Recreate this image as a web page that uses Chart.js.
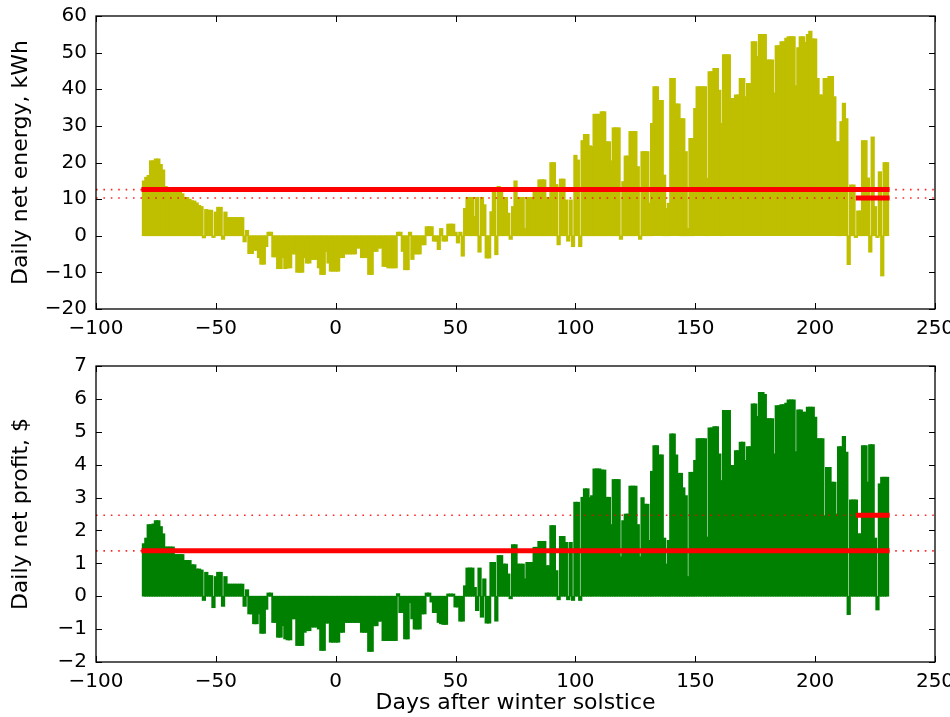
<!DOCTYPE html>
<html>
<head>
<meta charset="utf-8">
<script src="https://cdn.jsdelivr.net/npm/chart.js@4/dist/chart.umd.min.js"></script>
<style>
  html, body { margin: 0; padding: 0; background: #fff; }
  #wrap { position: relative; width: 950px; height: 717px; }
  #energyChart { position: absolute; left: 0; top: 0; }
  #profitChart { position: absolute; left: 0; top: 340px; }
</style>
</head>
<body>
<div id="wrap">
  <canvas id="energyChart" width="950" height="340"></canvas>
  <canvas id="profitChart" width="950" height="377"></canvas>
</div>
<script>
// days after winter solstice: -80 .. 230, one value per day
const firstDay = -80;

const dailyEnergy = [
  15, 16, 16.5, 20.5, 20.5, 21, 21, 19.5, 18, 13.5,            // -80..-71
  12, 12, 12.5, 12.5, 12, 12, 11.5, 10.5, 10.5, 10,            // -70..-61
  9.6, 9.5, 9, 8.3, 8, -0.6, 7.2, 7, 7, -0.5,                  // -60..-51
  6.5, 7.8, 7.8, -1, 6.5, 5, 5, 5, 5, 5,                       // -50..-41
  5, 5, -1.7, 1.5, -4.9, -4.9, -4, -4, -6, -7.8,               // -40..-31
  -7.8, -3, 1, 1, -5.8, -5.8, -9, -9, -6, -9,                  // -30..-21
  -8.8, -8.8, -5, -5, -10, -10, -10, -6, -7.5, -7.5,           // -20..-11
  -6.5, -6.5, -6.5, -8.8, -10.6, -10.6, -4.3, -7.5, -9.7, -9.7, // -10..-1
  -9.7, -9.7, -6, -6, -5, -5, -5, -5, -5, -3.4,                // 0..9
  -3.4, -6, -6, -6, -10.6, -10.6, -4.3, -4.3, -3.4, -3.4,      // 10..19
  -8.4, -8.4, -8.8, -8.8, -8.8, -8.8, 1, 1, -4.3, -9.3,        // 20..29
  -9.3, 1, -6.5, -5, -5, -5, -2.5, -2.5, 2.5, 2.5,             // 30..39
  2.5, -1.5, -1.5, -3.8, 2, -1.5, -1.5, 3.2, 3.2, 3.2,         // 40..49
  1, -2, 1, -5.6, 7.5, 10.5, 10.5, 10.5, 5.3, 10.5,            // 50..59
  -4.5, 10.5, 8.5, -6.1, -6.1, 6.6, 12, -5.2, 13.5, 13,        // 60..69
  10.5, 10.5, 6.2, -1, 8, 15, 10.5, 10.5, 10.5, 2,             // 70..79
  10.5, 10.5, 10.5, 12, 12, 15.3, 15.3, 15.3, 10.5, 10.5,      // 80..89
  20, 20, 14, -2.5, 15.5, 15.5, 9.8, -1.5, 9.8, -3,            // 90..99
  22, 20.7, -3, 26, 27.7, 27.7, 24.6, 24.4, 33.2, 33.2,        // 100..109
  33.2, 33.9, 33.9, 25.7, 25.7, 20.5, 29.5, 29.5, 29.5, -1,    // 110..119
  14.8, 21.8, 21.8, 28.5, 28.5, 28.5, 18.9, -1, 23, 23,        // 120..129
  23, 8.9, 30.7, 40.7, 40.7, 37, 37, 16.6, 7.5, 8.9,           // 130..139
  43, 43, 36, 36, 32, 32, 23, 2, 26.6, 26.6,                   // 140..149
  34.8, 40.7, 40.7, 40.7, 40.7, 15.7, 44.8, 44.8, 45.7, 45.7,  // 150..159
  39.8, 30.7, 49.5, 49.5, 49.5, 37.5, 37.5, 38.5, 38.5, 43,    // 160..169
  43, 38, 41.6, 41.6, 53, 53, 49, 55, 55, 55,                  // 170..179
  48, 48, 48, 39, 51.9, 51.9, 53, 53, 54, 54.4,                // 180..189
  54.4, 54.4, 41, 51.4, 54.4, 54.4, 52.8, 55, 55.9, 53.8,      // 190..199
  53.8, 43, 38.5, 38.5, 43, 43, 43.5, 43.5, 38, 25.7,          // 200..209
  25.7, 31.2, 36.2, 32, -7.9, 13.9, 13.9, -0.5, 6.8, 6.8,      // 210..219
  26, 26, 15.8, -4.5, 27, 8, -0.5, 17.5, -11, 20, 20           // 220..230
];

const dailyProfit = [
  1.6, 1.77, 2.18, 2.18, 2.2, 2.3, 2.3, 2.12, 1.9, 1.5,                 // -80..-71
  1.5, 1.5, 1.5, 1.27, 1.27, 1.27, 1.27, 1.09, 1.09, 1.09,              // -70..-61
  0.96, 0.96, 0.83, 0.83, 0.8, -0.13, 0.73, 0.63, 0.63, -0.35,          // -60..-51
  0.6, 0.73, 0.73, -0.31, 0.6, 0.37, 0.37, 0.37, 0.37, 0.37,            // -50..-41
  0.37, 0.37, -0.31, 0.2, -0.54, -0.54, -0.84, -0.84, -0.54, -1.13,     // -40..-31
  -1.13, -0.4, 0.1, 0.1, -0.8, -0.8, -1.25, -1.25, -0.9, -1.3,          // -30..-21
  -1.33, -1.33, -0.69, -0.69, -1.5, -1.5, -1.5, -1.1, -1.05, -1.05,     // -20..-11
  -0.94, -0.94, -0.94, -1.0, -1.65, -1.65, -0.82, -0.82, -1.4, -1.4,    // -10..-1
  -1.4, -1.4, -1.1, -1.1, -0.8, -0.8, -0.8, -0.8, -0.8, -0.8,           // 0..9
  -0.8, -1.1, -1.1, -1.1, -1.68, -1.68, -0.9, -0.9, -0.76, -0.76,       // 10..19
  -1.35, -1.35, -1.35, -1.35, -1.35, -1.35, 0.08, -0.5, -0.5, -1.3,     // 20..29
  -1.3, -0.2, -0.69, -1.0, -1.0, -1.0, -0.54, -0.54, 0.1, 0.1,          // 30..39
  -0.18, -0.5, -0.5, -0.8, -0.84, -0.86, -0.86, 0.07, 0.07, 0.07,       // 40..49
  -0.33, -0.33, -0.76, -0.76, 0.32, 0.86, 0.86, 0.86, 0.27, -0.44,      // 50..59
  0.86, -0.64, 0.53, -0.82, -0.82, 1.03, 1.03, -0.76, 1.24, 1.24,       // 60..69
  0.98, 0.98, 0.68, -0.08, 1.57, 1.57, 0.98, 0.98, 0.98, 0.53,          // 70..79
  1.03, 1.03, 1.03, 1.49, 1.49, 1.67, 1.67, 1.67, 0.93, 0.93,           // 80..89
  2.15, 2.15, 0.78, -0.11, 1.82, 1.82, 1.64, -0.11, 1.64, -0.13,        // 90..99
  2.86, 2.86, -0.13, 3.01, 3.27, 3.27, 3.0, 3.06, 3.87, 3.87,           // 100..109
  3.87, 3.84, 3.84, 3.01, 3.01, 2.18, 3.55, 3.55, 3.55, 1.2,            // 110..119
  2.3, 2.5, 2.5, 3.35, 3.35, 3.35, 2.18, 1.2, 3.0, 2.8,                 // 120..129
  2.8, 1.7, 3.8, 4.58, 4.58, 4.3, 4.3, 1.77, 0.98, 1.7,                 // 130..139
  4.94, 4.94, 4.3, 3.74, 3.74, 3.3, 3.06, 0.6, 3.77, 3.77,              // 140..149
  4.13, 4.79, 4.79, 4.79, 4.79, 1.8, 5.12, 5.12, 5.16, 5.16,            // 150..159
  4.33, 3.52, 5.65, 5.65, 5.65, 3.98, 3.98, 4.43, 4.43, 4.69,           // 160..169
  4.69, 4.13, 4.55, 4.55, 5.85, 5.85, 5.47, 6.2, 6.2, 6.14,             // 170..179
  5.4, 5.4, 5.4, 4.33, 5.8, 5.8, 5.83, 5.83, 5.87, 5.97,                // 180..189
  5.97, 5.97, 4.4, 5.67, 5.67, 5.6, 5.6, 5.75, 5.75, 5.75,              // 190..199
  5.45, 4.79, 4.79, 4.79, 2.45, 3.92, 3.92, 3.47, 3.47, 2.5,            // 200..209
  4.55, 4.55, 4.86, 4.38, -0.56, 2.93, 2.93, 2.93, 1.9, 1.9,            // 210..219
  4.58, 4.58, 3.47, 4.61, 4.61, 1.77, -0.42, 3.42, 3.62, 3.62, 3.62     // 220..230
];

// reference levels: [whole-period average, late-period average]
const energyLevels = [12.6, 10.3];
const profitLevels = [1.38, 2.46];
// day spans of the solid red lines, in the same order
const levelSpans = [[-80, 230], [218, 230]];

const xTicks = [-100, -50, 0, 50, 100, 150, 200, 250];
const energyTicks = [-20, -10, 0, 10, 20, 30, 40, 50, 60];
const profitTicks = [-2, -1, 0, 1, 2, 3, 4, 5, 6, 7];

const FONT = 'DejaVu Sans';
const TICK_SIZE = 20;
const LABEL_SIZE = 22;

function fmt(v) {
  return v < 0 ? '\u2212' + Math.abs(v) : String(v);
}

const framePlugin = {
  id: 'frame',
  afterDatasetsDraw(chart) {
    const { ctx, chartArea: a, scales: { x, y } } = chart;
    ctx.save();
    ctx.strokeStyle = '#000';
    ctx.lineWidth = 1;
    ctx.beginPath();
    x.ticks.forEach(t => {
      const px = Math.round(x.getPixelForValue(t.value)) + 0.5;
      ctx.moveTo(px, a.bottom); ctx.lineTo(px, a.bottom - 6);
      ctx.moveTo(px, a.top); ctx.lineTo(px, a.top + 6);
    });
    y.ticks.forEach(t => {
      const py = Math.round(y.getPixelForValue(t.value)) + 0.5;
      ctx.moveTo(a.left, py); ctx.lineTo(a.left + 6, py);
      ctx.moveTo(a.right, py); ctx.lineTo(a.right - 6, py);
    });
    ctx.stroke();
    ctx.lineWidth = 1.3;
    ctx.strokeRect(a.left, a.top, a.right - a.left, a.bottom - a.top);
    ctx.restore();
  }
};

function makeChart(el, cfg) {
  const bars = cfg.values.map((v, i) => ({ x: firstDay + i, y: v }));
  const datasets = [{
    type: 'bar',
    data: bars,
    backgroundColor: cfg.color,
    borderWidth: 0,
    barThickness: 3.6,
    order: 3
  }];

  cfg.levels.forEach((lvl, i) => {
    datasets.push({
      type: 'line',
      data: [{ x: -100, y: lvl }, { x: 250, y: lvl }],
      borderColor: 'rgba(255,0,0,0.85)',
      borderWidth: 1.6,
      borderDash: [1.6, 5.8],
      pointRadius: 0,
      order: 2
    });
    datasets.push({
      type: 'line',
      data: [{ x: levelSpans[i][0], y: lvl }, { x: levelSpans[i][1], y: lvl }],
      borderColor: '#ff0000',
      borderWidth: 5,
      borderCapStyle: 'square',
      pointRadius: 0,
      order: 1
    });
  });

  return new Chart(el, {
    data: { datasets },
    options: {
      responsive: false,
      animation: false,
      events: [],
      layout: { padding: { top: cfg.padTop, right: 15, bottom: 0, left: 0 } },
      plugins: { legend: { display: false }, tooltip: { enabled: false } },
      scales: {
        x: {
          type: 'linear',
          min: -100,
          max: 250,
          offset: false,
          grid: { display: false, drawTicks: false },
          border: { display: false },
          afterBuildTicks: s => { s.ticks = xTicks.map(v => ({ value: v })); },
          ticks: {
            color: '#000',
            font: { family: FONT, size: TICK_SIZE },
            padding: 8,
            maxRotation: 0,
            autoSkip: false,
            callback: fmt
          },
          title: cfg.xTitle ? {
            display: true,
            text: cfg.xTitle,
            color: '#000',
            font: { family: FONT, size: LABEL_SIZE },
            padding: { top: 0, bottom: 1 }
          } : { display: false },
          afterFit: s => { s.height = cfg.xHeight; s.paddingLeft = 0; s.paddingRight = 0; }
        },
        y: {
          type: 'linear',
          min: cfg.yTicks[0],
          max: cfg.yTicks[cfg.yTicks.length - 1],
          grid: { display: false, drawTicks: false },
          border: { display: false },
          afterBuildTicks: s => { s.ticks = cfg.yTicks.map(v => ({ value: v })); },
          ticks: {
            color: '#000',
            font: { family: FONT, size: TICK_SIZE },
            padding: 9,
            autoSkip: false,
            callback: fmt
          },
          title: {
            display: true,
            text: cfg.yTitle,
            color: '#000',
            font: { family: FONT, size: LABEL_SIZE },
            padding: { top: 8, bottom: 0 }
          },
          afterFit: s => { s.width = 96; s.paddingTop = 0; s.paddingBottom = 0; }
        }
      }
    },
    plugins: [framePlugin]
  });
}

makeChart(document.getElementById('energyChart'), {
  values: dailyEnergy,
  color: '#bfbf00',
  levels: energyLevels,
  yTicks: energyTicks,
  yTitle: 'Daily net energy, kWh',
  padTop: 16,
  xHeight: 31
});

makeChart(document.getElementById('profitChart'), {
  values: dailyProfit,
  color: '#008000',
  levels: profitLevels,
  yTicks: profitTicks,
  yTitle: 'Daily net profit, $',
  xTitle: 'Days after winter solstice',
  padTop: 26,
  xHeight: 55
});
</script>
</body>
</html>
